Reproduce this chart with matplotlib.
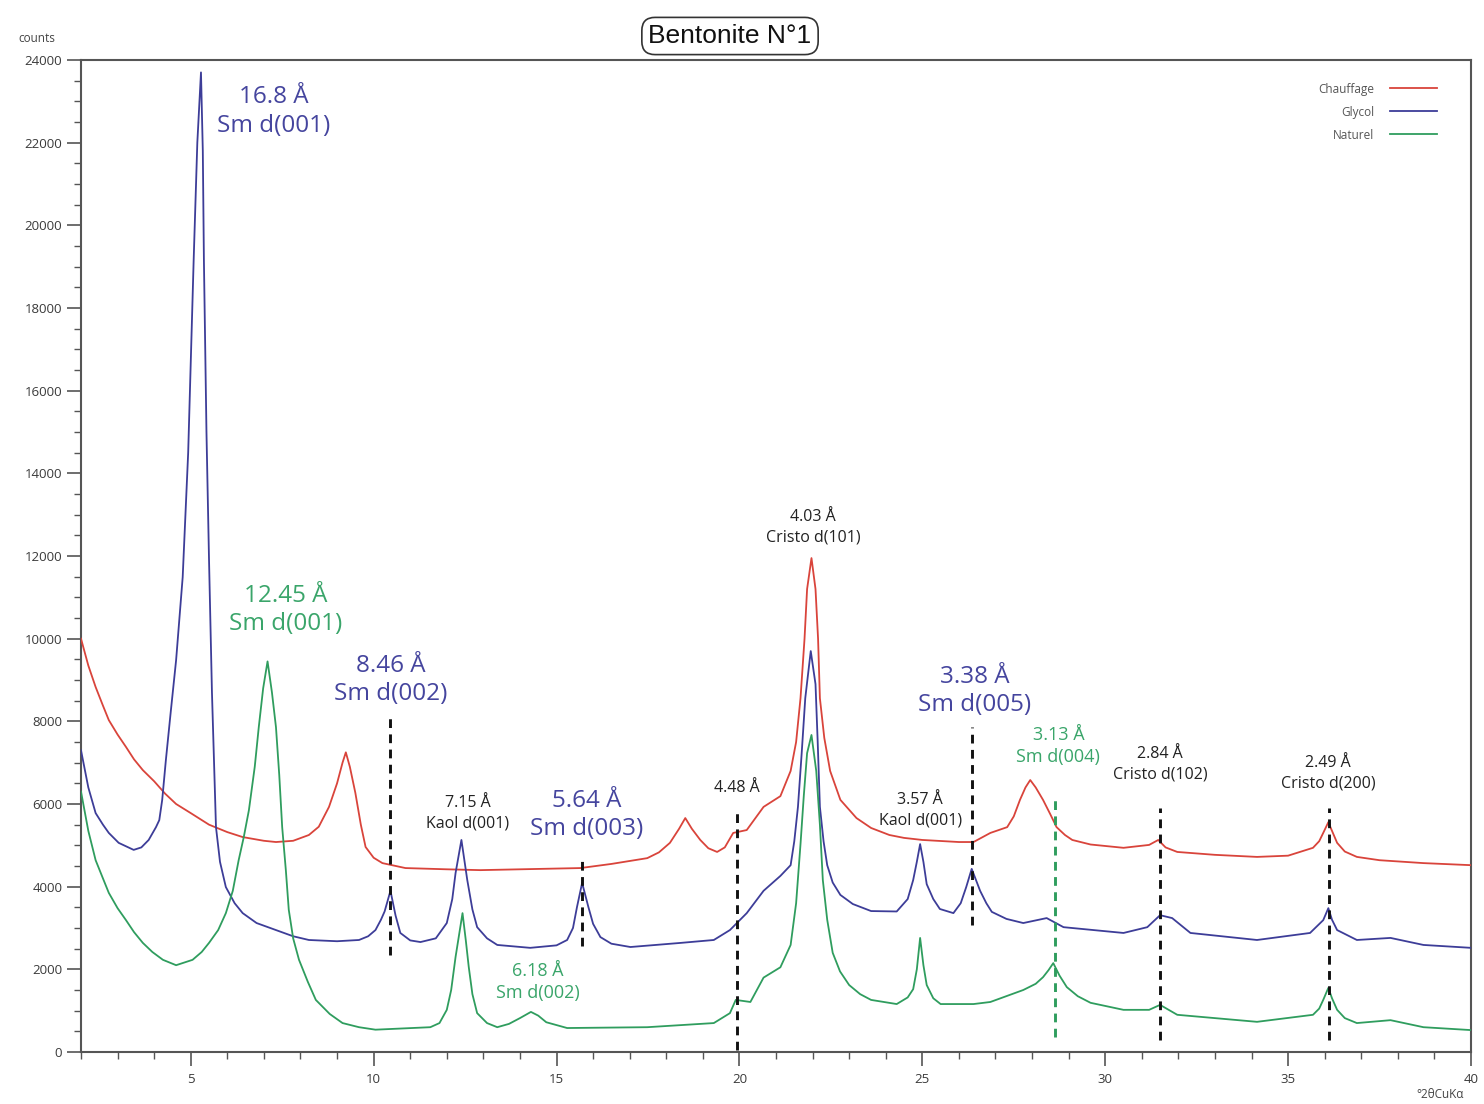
import matplotlib
matplotlib.use("Agg")
import matplotlib.pyplot as plt
from matplotlib.ticker import MultipleLocator

# ---------------- data ----------------
chauffage_x = [2.0, 2.2, 2.4, 2.6, 2.76, 3.0, 3.23, 3.45, 3.69, 4.0, 4.3, 4.6, 5.0, 5.5, 6.0, 6.42,
               7.0, 7.33, 7.8, 8.23, 8.5, 8.78, 9.0, 9.15, 9.24, 9.35, 9.5, 9.65, 9.78, 10.0, 10.24,
               10.87, 12.0, 12.92, 14.0, 15.65, 16.5, 17.48, 17.8, 18.1, 18.35, 18.52, 18.7, 18.93,
               19.15, 19.39, 19.6, 19.83, 20.2, 20.66, 21.12, 21.4, 21.55, 21.67, 21.78, 21.85, 21.97,
               22.08, 22.15, 22.2, 22.32, 22.48, 22.76, 23.2, 23.6, 24.1, 24.5, 25.0, 26.0, 26.4,
               26.86, 27.32, 27.5, 27.67, 27.82, 27.95, 28.1, 28.3, 28.5, 28.67, 28.9, 29.1, 29.6,
               30.5, 31.2, 31.45, 31.65, 31.97, 33.0, 34.15, 35.0, 35.68, 35.85, 35.96, 36.1, 36.2,
               36.34, 36.55, 36.88, 37.5, 38.7, 40.0]
chauffage_y = [10000, 9350, 8830, 8380, 8030, 7680, 7380, 7080, 6820, 6550, 6250, 6000, 5780, 5500, 5320, 5200,
               5110, 5080, 5110, 5250, 5450, 5930, 6500, 7000, 7250, 6900, 6270, 5500, 4960, 4700, 4570,
               4450, 4420, 4400, 4420, 4450, 4550, 4690, 4830, 5060, 5400, 5660, 5400, 5130,
               4930, 4840, 4950, 5300, 5370, 5930, 6190, 6800, 7500, 8560, 10000, 11200, 11950,
               11200, 10000, 8560, 7600, 6800, 6100, 5660, 5420, 5250, 5180, 5130, 5080, 5080,
               5300, 5440, 5700, 6100, 6400, 6580, 6400, 6100, 5750, 5440, 5250, 5130, 5020,
               4940, 5010, 5130, 4950, 4840, 4770, 4720, 4750, 4940, 5100, 5300, 5560, 5350,
               5060, 4850, 4720, 4640, 4570, 4520]

glycol_x = [2.0, 2.2, 2.4, 2.6, 2.76, 3.03, 3.44, 3.65, 3.85, 4.05, 4.14, 4.22, 4.32, 4.45, 4.6, 4.78,
            4.93, 5.08, 5.18, 5.28, 5.33, 5.36, 5.43, 5.5, 5.58, 5.69, 5.8, 5.96, 6.2, 6.42, 6.8, 7.33,
            7.8, 8.23, 9.0, 9.6, 9.85, 10.05, 10.2, 10.3, 10.46, 10.6, 10.73, 11.0, 11.28, 11.7, 12.0,
            12.15, 12.24, 12.4, 12.56, 12.7, 12.83, 13.1, 13.38, 14.28, 15.0, 15.29, 15.45, 15.56,
            15.7, 15.87, 16.0, 16.2, 16.5, 17.02, 18.4, 19.3, 19.74, 20.2, 20.66, 21.12, 21.4, 21.5,
            21.6, 21.7, 21.8, 21.95, 22.08, 22.14, 22.2, 22.3, 22.4, 22.55, 22.76, 23.1, 23.6, 24.3,
            24.6, 24.75, 24.85, 24.94, 25.03, 25.12, 25.3, 25.48, 25.85, 26.05, 26.2, 26.35, 26.45,
            26.58, 26.75, 26.9, 27.3, 27.76, 28.4, 28.86, 30.5, 31.15, 31.5, 31.83, 32.33, 34.15,
            35.6, 35.96, 36.1, 36.2, 36.34, 36.88, 37.8, 38.7, 40.0]
glycol_y = [7300, 6400, 5780, 5500, 5300, 5060, 4890, 4950, 5130, 5440, 5610, 6100, 7060, 8200, 9480, 11490,
            14500, 19160, 22000, 23700, 21800, 19160, 15000, 11900, 8700, 5440, 4600, 3990, 3600, 3360, 3120, 2950,
            2800, 2710, 2680, 2710, 2800, 2950, 3200, 3400, 3900, 3300, 2880, 2700, 2660, 2750, 3120,
            3700, 4330, 5130, 4160, 3450, 3020, 2750, 2590, 2520, 2580, 2710, 3000, 3510,
            4090, 3510, 3100, 2780, 2620, 2540, 2640, 2710, 2950, 3360, 3900, 4260, 4520, 5100,
            5930, 7200, 8560, 9700, 8900, 7500, 5930, 5100, 4520, 4100, 3800, 3580, 3410, 3400,
            3700, 4160, 4600, 5030, 4600, 4060, 3700, 3460, 3360, 3600, 3990, 4430, 4200,
            3900, 3600, 3390, 3220, 3120, 3240, 3020, 2880, 3020, 3310, 3240, 2880, 2710,
            2880, 3190, 3480, 3200, 2950, 2710, 2760, 2590, 2520]

naturel_x = [2.0, 2.2, 2.4, 2.6, 2.76, 3.0, 3.23, 3.45, 3.69, 3.95, 4.24, 4.6, 5.05, 5.3, 5.5, 5.75,
             5.96, 6.15, 6.31, 6.45, 6.59, 6.75, 6.86, 6.98, 7.1, 7.22, 7.33, 7.42, 7.5, 7.6, 7.68,
             7.8, 7.96, 8.2, 8.42, 8.8, 9.15, 9.6, 10.05, 11.55, 11.8, 12.0, 12.12, 12.24, 12.43,
             12.52, 12.6, 12.7, 12.83, 13.1, 13.38, 13.7, 14.0, 14.3, 14.5, 14.72, 15.29, 17.48,
             19.3, 19.74, 19.9, 20.3, 20.66, 21.12, 21.4, 21.55, 21.67, 21.76, 21.85, 21.97, 22.1,
             22.2, 22.28, 22.4, 22.55, 22.75, 23.0, 23.3, 23.6, 24.3, 24.6, 24.75, 24.85, 24.94,
             25.03, 25.12, 25.3, 25.5, 26.4, 26.86, 27.76, 28.1, 28.3, 28.45, 28.58, 28.75, 28.95,
             29.25, 29.6, 30.5, 31.2, 31.5, 31.97, 34.15, 35.68, 35.85, 35.96, 36.1, 36.2, 36.34,
             36.55, 36.88, 37.8, 38.7, 40.0]
naturel_y = [6300, 5350, 4640, 4200, 3850, 3480, 3190, 2900, 2640, 2420, 2230, 2100, 2230, 2420, 2640, 2950,
             3360, 3900, 4640, 5200, 5850, 6900, 7860, 8800, 9450, 8700, 7860, 6700, 5440, 4400, 3440,
             2750, 2230, 1700, 1260, 920, 700, 600, 540, 600, 700, 1020, 1500, 2300, 3360,
             2700, 2060, 1400, 940, 700, 600, 680, 820, 970, 880, 720, 580, 600,
             700, 940, 1260, 1210, 1800, 2050, 2590, 3600, 5030, 6200, 7230, 7670, 6800,
             5500, 4160, 3200, 2400, 1950, 1620, 1400, 1260, 1160, 1320, 1520, 2000, 2760,
             2100, 1620, 1300, 1160, 1160, 1210, 1500, 1650, 1810, 1980, 2150, 1850, 1570,
             1350, 1190, 1020, 1020, 1140, 900, 730, 900, 1050, 1260, 1550, 1300, 1020,
             820, 700, 770, 600, 530]

series_names = ["Chauffage", "Glycol", "Naturel"]

# dashed reference lines: position, top, bottom
mark_x = [10.46, 15.7, 19.94, 26.37, 28.64, 31.5, 36.12]
mark_top = [8100, 4760, 5900, 7860, 6100, 5900, 5900]
mark_bottom = [2350, 2560, 50, 3070, 360, 290, 290]
mark_kind = ["k", "k", "k", "k", "g", "k", "k"]

# annotations: text, x, y, kind
ann_text = ["16.8 Å\nSm d(001)", "12.45 Å\nSm d(001)", "8.46 Å\nSm d(002)", "7.15 Å\nKaol d(001)",
            "5.64 Å\nSm d(003)", "6.18 Å\nSm d(002)", "4.48 Å", "4.03 Å\nCristo d(101)",
            "3.57 Å\nKaol d(001)", "3.38 Å\nSm d(005)", "3.13 Å\nSm d(004)",
            "2.84 Å\nCristo d(102)", "2.49 Å\nCristo d(200)"]
ann_x = [7.27, 7.6, 10.47, 12.57, 15.82, 14.48, 19.92, 22.02, 24.94, 26.44, 28.72, 31.5, 36.1]
ann_y = [22760, 10690, 9000, 5781, 5733, 1693, 6386, 12700, 5854, 8733, 7400, 6967, 6749]
ann_kind = ["bigblue", "biggreen", "bigblue", "black", "bigblue", "green", "black", "black",
            "black", "bigblue", "green", "black", "black"]

x_ticks = [5, 10, 15, 20, 25, 30, 35, 40]
y_ticks = list(range(0, 24001, 2000))

# ---------------- styles ----------------
RED = "#d9443b"
BLUE = "#3d3d98"
GREEN = "#2f9d5e"
TXT_BLUE = "#45459e"
TXT_GREEN = "#3aa56a"

plt.rcParams["font.family"] = ["Open Sans", "DejaVu Sans"]

fig = plt.figure(figsize=(14.84, 11.04), dpi=100)
ax = fig.add_axes([81 / 1484, 1 - 1052 / 1104, (1471 - 81) / 1484, (1052 - 60) / 1104])

ax.plot(chauffage_x, chauffage_y, color=RED, lw=1.3, label=series_names[0], zorder=3)
ax.plot(glycol_x, glycol_y, color=BLUE, lw=1.3, label=series_names[1], zorder=3)
ax.plot(naturel_x, naturel_y, color=GREEN, lw=1.3, label=series_names[2], zorder=3)

for mx, mt, mb, mk in zip(mark_x, mark_top, mark_bottom, mark_kind):
    ax.plot([mx, mx], [mb, mt], color=("#111111" if mk == "k" else GREEN), lw=2.1,
            linestyle=(0, (3, 2.2)), zorder=4)

styles = {
    "bigblue": dict(color=TXT_BLUE, fontsize=17.5, linespacing=1.25),
    "biggreen": dict(color=TXT_GREEN, fontsize=17.5, linespacing=1.25),
    "green": dict(color=TXT_GREEN, fontsize=13, linespacing=1.25),
    "black": dict(color="#222222", fontsize=11.5, linespacing=1.35),
}
for t, x, y, k in zip(ann_text, ann_x, ann_y, ann_kind):
    ax.text(x, y, t, ha="center", va="center", zorder=5, **styles[k])

ax.set_xlim(2, 40)
ax.set_ylim(0, 24000)
ax.set_xticks(x_ticks)
ax.set_yticks(y_ticks)
ax.xaxis.set_minor_locator(MultipleLocator(1))
ax.yaxis.set_minor_locator(MultipleLocator(500))
ax.tick_params(axis="both", which="major", direction="out", length=10, width=1.2,
               colors="#555555", labelsize=9.5, labelcolor="#3a3a3a")
ax.tick_params(axis="both", which="minor", direction="out", length=5, width=1.0, colors="#555555")
ax.tick_params(axis="x", pad=5)
for s in ax.spines.values():
    s.set_color("#555555")
    s.set_linewidth(1.5)

leg = ax.legend(loc="upper right", bbox_to_anchor=(0.983, 0.988), frameon=False,
                markerfirst=False, fontsize=8.5, handlelength=4.0, handletextpad=1.3,
                labelspacing=0.85)
for txt in leg.get_texts():
    txt.set_color("#555555")

fig.text(37 / 1484, 1 - 38 / 1104, "counts", fontsize=8.5, color="#444444", ha="center", va="center")
fig.text(1440 / 1484, 1 - 1095 / 1104, "°2θCuKα", fontsize=8.5, color="#444444", ha="center", va="center")

fig.text(730 / 1484, 1 - 36 / 1104, "Bentonite N°1", fontsize=19, family="Liberation Sans",
         ha="center", va="center", color="#111111",
         bbox=dict(boxstyle="round,pad=0.25,rounding_size=0.5", fc="white", ec="#333333", lw=1.2))

fig.savefig("out.png", dpi=100, facecolor="white")
